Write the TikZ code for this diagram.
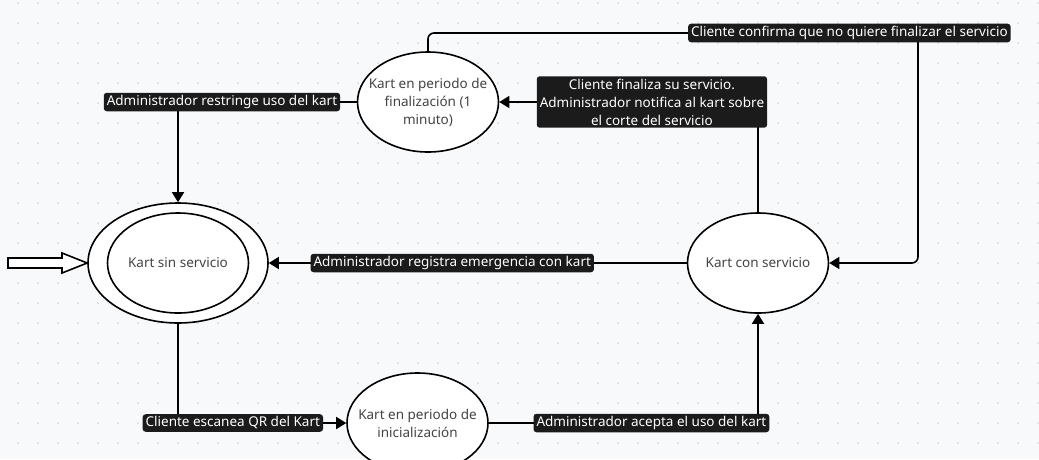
\documentclass[tikz,border=0pt]{standalone}
\usepackage{fontspec}
\setmainfont{Noto Sans}
\usepackage{tikz}
\usetikzlibrary{arrows.meta,shapes.geometric,positioning}

\definecolor{fondo}{HTML}{F8F9FB}
\definecolor{punto}{HTML}{D5D7DD}
\definecolor{caja}{HTML}{1B1B1B}
\definecolor{gris}{HTML}{444444}

\tikzset{
  estado/.style={draw,ellipse,line width=1.6pt,fill=white,inner sep=0pt,minimum width=141pt,minimum height=100pt},
  texto/.style={text=gris,align=center,font=\fontsize{13.5}{18}\selectfont},
  etiqueta/.style={fill=caja,text=white,rounded corners=3pt,inner xsep=3pt,inner ysep=2.5pt,align=center,font=\fontsize{13.5}{18}\selectfont},
  flecha/.style={line width=1.6pt,-{Triangle[length=10pt,width=12pt]}}
}

\begin{document}
\begin{tikzpicture}[x=1pt,y=-1pt]
\clip (0,0) rectangle (1039,459);
\fill[fondo] (0,0) rectangle (1039,459);
\foreach \x in {18,38,...,1038}
  \foreach \y in {3,23,...,443}
    \fill[punto] (\x,\y) circle (1pt);

% estados
\node[estado,minimum width=180pt,minimum height=120pt] (sinext) at (178,263) {};
\node[estado,label={[texto]center:Kart sin servicio}] (sin) at (178,263) {};
\node[estado,label={[texto]center:Kart con servicio}] (con) at (758,263) {};
\node[estado,label={[texto]center:{Kart en periodo de\\finalización (1\\minuto)}}] (fin) at (428,102) {};
\node[estado,label={[texto]center:{Kart en periodo de\\inicialización}}] (ini) at (417.5,423) {};

% estado inicial
\draw[line width=1.6pt,fill=white] (8,258) -- (62,258) -- (62,253) -- (sinext.west) -- (62,273) -- (62,268) -- (8,268) -- cycle;

% transiciones
\draw[flecha] (sinext.south) |- node[etiqueta,pos=0.663] (e1) {Cliente escanea QR del Kart} (ini.west);
\draw[flecha] (ini.east) -| node[etiqueta,pos=0.302] (e2) {Administrador acepta el uso del kart} (con.south);
\draw[flecha] (con.west) -- node[etiqueta,pos=0.561] (e3) {Administrador registra emergencia con kart} (sinext.east);
\draw[flecha] (con.north) |- node[etiqueta,pos=0.705] (e4) {Cliente finaliza su servicio.\\Administrador notifica al kart sobre\\el corte del servicio} (fin.east);
\draw[flecha] (fin.west) -| node[etiqueta,pos=0.377] (e5) {Administrador restringe uso del kart} (sinext.north);
\coordinate (giro) at (918,33);
\draw[flecha,rounded corners=6pt] (fin.north) |- node[etiqueta,pos=0.93] (e6) {Cliente confirma que no quiere finalizar el servicio} (giro) |- (con.east);
\end{tikzpicture}
\end{document}
